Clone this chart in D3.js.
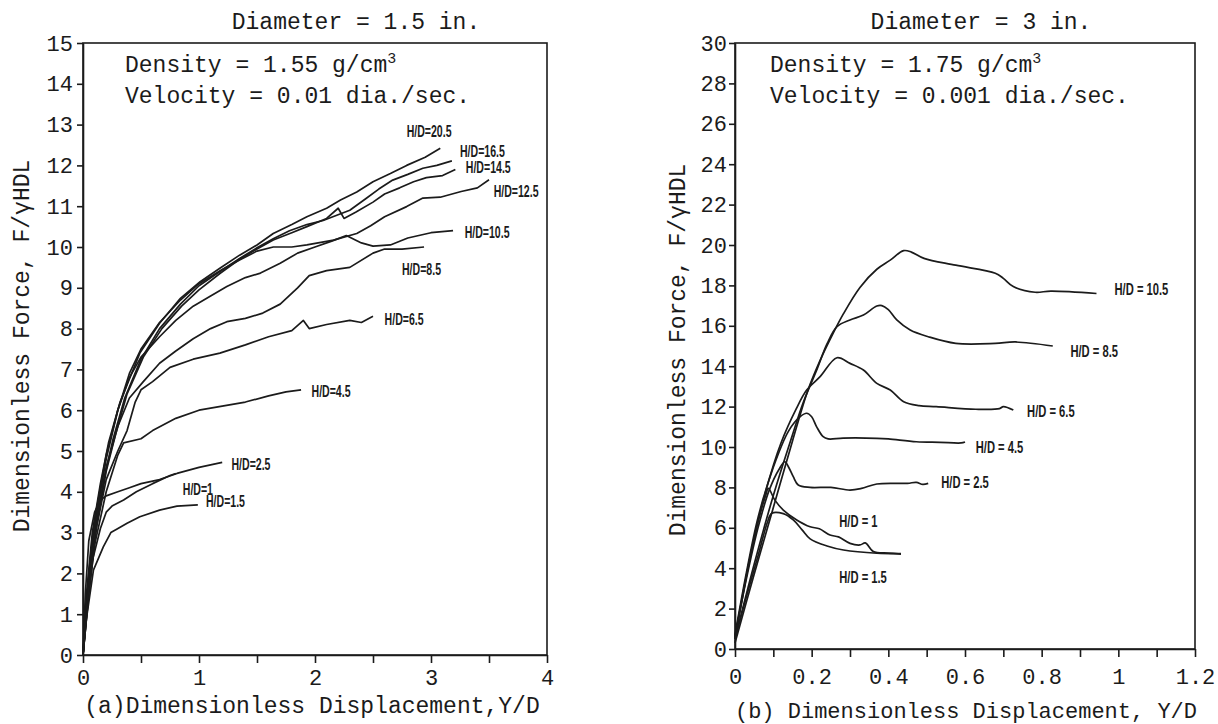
<!DOCTYPE html>
<html>
<head>
<meta charset="utf-8">
<script src="https://cdn.jsdelivr.net/npm/d3@7"></script>
<style>
    body { margin: 0; background: #fff; }
    svg text { font-family: "Liberation Mono", "DejaVu Sans Mono", monospace; fill: #1b1b1b; }
    .tag { font-family: "Liberation Sans", Arial, sans-serif; font-weight: bold; }
    .axis path, .axis line { stroke: #1b1b1b; stroke-width: 1.6; }
    .frame { fill: none; stroke: #1b1b1b; stroke-width: 1.6; }
    .curve { fill: none; stroke: #1b1b1b; stroke-width: 1.7; stroke-linejoin: round; }
</style>
</head>
<body>
<svg id="chart" width="1218" height="724"></svg>
<script>
// ---------- panel (a): diameter 1.5 in.
const aXTicks = [0, 0.5, 1, 1.5, 2, 2.5, 3, 3.5, 4];
const aXLabels = ["0", "", "1", "", "2", "", "3", "", "4"];
const aYTicks = [0, 1, 2, 3, 4, 5, 6, 7, 8, 9, 10, 11, 12, 13, 14, 15];

const aHD20_5 = [[0, 0], [0.03, 1.5], [0.08, 3.0], [0.15, 4.2], [0.22, 5.2], [0.32, 6.2], [0.49, 7.4], [0.66, 8.13],
    [0.84, 8.74], [1.01, 9.15], [1.18, 9.48], [1.35, 9.8], [1.5, 10.05], [1.64, 10.33], [1.8, 10.55], [1.93, 10.74],
    [2.1, 10.95], [2.22, 11.15], [2.36, 11.35], [2.5, 11.6], [2.65, 11.8], [2.79, 12.0], [2.95, 12.2], [3.08, 12.42]];
const aHD16_5 = [[0, 0], [0.04, 1.4], [0.1, 3.0], [0.18, 4.3], [0.26, 5.3], [0.36, 6.3], [0.5, 7.25], [0.66, 8.0],
    [0.84, 8.6], [1.0, 9.05], [1.18, 9.4], [1.35, 9.72], [1.5, 9.98], [1.64, 10.2], [1.78, 10.4], [1.93, 10.55],
    [2.07, 10.65], [2.3, 10.9], [2.44, 11.19], [2.55, 11.42], [2.67, 11.64], [2.8, 11.78], [2.93, 11.93], [3.05, 12.0], [3.18, 12.11]];
const aHD14_5 = [[0, 0], [0.05, 1.5], [0.12, 3.2], [0.2, 4.5], [0.28, 5.4], [0.38, 6.4], [0.52, 7.3], [0.68, 8.0],
    [0.85, 8.55], [1.0, 8.95], [1.18, 9.35], [1.35, 9.7], [1.5, 9.95], [1.64, 10.17], [1.8, 10.35], [1.93, 10.5],
    [2.1, 10.7], [2.2, 10.95], [2.25, 10.7], [2.35, 10.85], [2.5, 11.1], [2.6, 11.3], [2.73, 11.45], [2.85, 11.6], [2.96, 11.7], [3.1, 11.75], [3.21, 11.9]];
const aHD12_5 = [[0, 0], [0.05, 1.9], [0.1, 3.2], [0.2, 4.8], [0.3, 6.0], [0.4, 6.9], [0.5, 7.5], [0.66, 8.15],
    [0.84, 8.7], [1.0, 9.1], [1.2, 9.45], [1.35, 9.68], [1.5, 9.9], [1.64, 10.0], [1.8, 10.0], [1.93, 10.05],
    [2.16, 10.17], [2.36, 10.33], [2.48, 10.52], [2.6, 10.74], [2.79, 10.99], [2.93, 11.2], [3.08, 11.22], [3.26, 11.36], [3.4, 11.45], [3.5, 11.65]];
const aHD10_5 = [[0, 0], [0.05, 2.0], [0.1, 3.3], [0.2, 4.9], [0.3, 6.0], [0.4, 6.8], [0.5, 7.3], [0.66, 7.8],
    [0.8, 8.2], [0.95, 8.55], [1.1, 8.8], [1.24, 9.03], [1.4, 9.25], [1.53, 9.36], [1.7, 9.6], [1.85, 9.85],
    [2.0, 10.0], [2.15, 10.15], [2.27, 10.28], [2.4, 10.1], [2.5, 10.02], [2.65, 10.05], [2.8, 10.22], [3.0, 10.35], [3.19, 10.4]];
const aHD8_5 = [[0, 0], [0.05, 1.8], [0.1, 3.1], [0.2, 4.6], [0.3, 5.6], [0.4, 6.3], [0.52, 6.7], [0.66, 7.15],
    [0.8, 7.45], [0.95, 7.75], [1.1, 8.0], [1.24, 8.17], [1.4, 8.25], [1.55, 8.38], [1.7, 8.6], [1.85, 9.0],
    [1.95, 9.3], [2.1, 9.42], [2.3, 9.5], [2.5, 9.85], [2.6, 9.95], [2.75, 9.95], [2.94, 10.0]];
const aHD6_5 = [[0, 0], [0.05, 1.6], [0.1, 2.9], [0.2, 4.3], [0.3, 5.0], [0.38, 5.5], [0.45, 6.2], [0.5, 6.5],
    [0.6, 6.7], [0.75, 7.05], [0.95, 7.25], [1.18, 7.4], [1.4, 7.6], [1.6, 7.8], [1.8, 7.95], [1.9, 8.2],
    [1.95, 8.0], [2.1, 8.1], [2.3, 8.2], [2.4, 8.15], [2.5, 8.3]];
const aHD4_5 = [[0, 0], [0.05, 1.5], [0.1, 2.7], [0.2, 4.0], [0.3, 4.9], [0.35, 5.2], [0.5, 5.3], [0.6, 5.5],
    [0.8, 5.8], [1.0, 6.0], [1.2, 6.1], [1.4, 6.2], [1.6, 6.35], [1.75, 6.45], [1.88, 6.5]];
const aHD2_5 = [[0, 0], [0.02, 1.5], [0.05, 2.8], [0.1, 3.5], [0.15, 3.8], [0.2, 3.9], [0.3, 4.0], [0.4, 4.1],
    [0.5, 4.2], [0.66, 4.3], [0.81, 4.45], [1.0, 4.6], [1.2, 4.72]];
const aHD1 = [[0, 0], [0.03, 1.2], [0.08, 2.3], [0.15, 3.1], [0.2, 3.5], [0.25, 3.65], [0.35, 3.8], [0.46, 4.0],
    [0.6, 4.2], [0.75, 4.4], [0.8, 4.45]];
const aHD1_5 = [[0, 0], [0.03, 0.9], [0.09, 2.08], [0.175, 2.65], [0.24, 3.0], [0.29, 3.08], [0.38, 3.23],
    [0.49, 3.39], [0.66, 3.55], [0.81, 3.65], [0.99, 3.68]];

const aNames = ["H/D=20.5", "H/D=16.5", "H/D=14.5", "H/D=12.5", "H/D=10.5", "H/D=8.5", "H/D=6.5", "H/D=4.5", "H/D=2.5", "H/D=1", "H/D=1.5"];
const aCurves = [aHD20_5, aHD16_5, aHD14_5, aHD12_5, aHD10_5, aHD8_5, aHD6_5, aHD4_5, aHD2_5, aHD1, aHD1_5];

// ---------- panel (b): diameter 3 in.
const bXTicks = [0, 0.1, 0.2, 0.3, 0.4, 0.5, 0.6, 0.7, 0.8, 0.9, 1.0, 1.1, 1.2];
const bXLabels = ["0", "", "0.2", "", "0.4", "", "0.6", "", "0.8", "", "1", "", "1.2"];
const bYTicks = [0, 2, 4, 6, 8, 10, 12, 14, 16, 18, 20, 22, 24, 26, 28, 30];

const bHD10_5 = [[0, 0.3], [0.05, 3.7], [0.1, 7.0], [0.15, 10.3], [0.19, 12.8], [0.22, 14.2], [0.25, 15.4],
    [0.283, 16.6], [0.326, 17.9], [0.37, 18.8], [0.405, 19.25], [0.44, 19.72], [0.46, 19.65], [0.493, 19.34],
    [0.576, 19.0], [0.679, 18.6], [0.70, 18.35], [0.726, 17.94], [0.783, 17.66], [0.824, 17.72], [0.943, 17.6]];
const bHD8_5 = [[0, 0.5], [0.05, 4.2], [0.1, 7.6], [0.15, 10.6], [0.178, 12.2], [0.213, 13.8], [0.24, 15.1],
    [0.266, 15.96], [0.3, 16.29], [0.335, 16.53], [0.37, 16.98], [0.383, 17.0], [0.4, 16.8], [0.422, 16.29],
    [0.457, 15.79], [0.504, 15.46], [0.576, 15.13], [0.679, 15.13], [0.731, 15.2], [0.829, 15.0]];
const bHD6_5 = [[0, 0.6], [0.04, 4.6], [0.08, 7.8], [0.12, 10.2], [0.16, 11.9], [0.187, 12.82], [0.222, 13.48],
    [0.266, 14.42], [0.3, 14.14], [0.335, 13.81], [0.37, 13.15], [0.405, 12.82], [0.44, 12.24], [0.48, 12.05],
    [0.525, 12.0], [0.628, 11.87], [0.69, 11.9], [0.7, 12.0], [0.726, 11.83]];
const bHD4_5 = [[0, 0.7], [0.03, 3.8], [0.06, 6.5], [0.1, 9.0], [0.14, 10.8], [0.17, 11.5], [0.187, 11.67],
    [0.2, 11.5], [0.213, 11.0], [0.23, 10.51], [0.243, 10.4], [0.282, 10.44], [0.37, 10.43], [0.4, 10.4],
    [0.473, 10.26], [0.535, 10.23], [0.59, 10.2], [0.6, 10.25]];
const bHD2_5 = [[0, 0.6], [0.03, 3.5], [0.06, 6.0], [0.09, 7.9], [0.115, 8.9], [0.13, 9.27], [0.14, 9.0],
    [0.152, 8.53], [0.165, 8.12], [0.196, 8.0], [0.25, 8.0], [0.3, 7.87], [0.33, 7.95], [0.37, 8.17],
    [0.45, 8.2], [0.473, 8.25], [0.49, 8.15], [0.504, 8.2]];
const bHD1 = [[0, 0.5], [0.02, 2.6], [0.04, 4.6], [0.06, 6.3], [0.08, 7.6], [0.087, 7.95], [0.104, 7.37],
    [0.126, 6.88], [0.161, 6.39], [0.196, 6.05], [0.22, 5.95], [0.248, 5.64], [0.27, 5.55], [0.3, 5.23],
    [0.326, 5.15], [0.34, 5.25], [0.361, 4.82], [0.4, 4.75], [0.433, 4.7]];
const bHD1_5 = [[0, 0.5], [0.03, 2.6], [0.06, 4.6], [0.085, 6.3], [0.096, 6.72], [0.126, 6.7], [0.152, 6.39],
    [0.175, 5.9], [0.196, 5.45], [0.24, 5.1], [0.283, 4.9], [0.37, 4.74], [0.433, 4.72]];

const bNames = ["H/D = 10.5", "H/D = 8.5", "H/D = 6.5", "H/D = 4.5", "H/D = 2.5", "H/D = 1", "H/D = 1.5"];
const bCurves = [bHD10_5, bHD8_5, bHD6_5, bHD4_5, bHD2_5, bHD1, bHD1_5];

// where each curve name sits, in data units of its panel
const aTagAt = [[2.79, 12.7], [3.25, 12.21], [3.3, 11.81], [3.54, 11.23], [3.29, 10.22], [2.75, 9.31],
    [2.6, 8.09], [1.97, 6.32], [1.28, 4.53], [0.86, 3.92], [1.06, 3.63]];
const bTagAt = [[0.99, 17.52], [0.875, 14.46], [0.762, 11.49], [0.628, 9.7], [0.538, 7.97], [0.272, 6.04], [0.272, 3.27]];


let svg = d3.select("#chart");

/**
 * Draw one panel: frame, axes, curves and texts.
 */
function drawPanel(p) {
    let g = svg.append("g");

    let x = d3.scaleLinear().domain(p.xDomain).range([p.left, p.right]);
    let y = d3.scaleLinear().domain(p.yDomain).range([p.bottom, p.top]);

    g.append("rect")
        .attr("class", "frame")
        .attr("x", p.left)
        .attr("y", p.top)
        .attr("width", p.right - p.left)
        .attr("height", p.bottom - p.top);

    let xAxis = d3.axisBottom(x)
        .tickValues(p.xTicks)
        .tickFormat((d, i) => p.xLabels[i])
        .tickSize(8)
        .tickSizeOuter(0)
        .tickPadding(p.xPad);
    g.append("g")
        .attr("class", "axis")
        .attr("transform", "translate(0," + p.bottom + ")")
        .call(xAxis)
        .selectAll("text")
        .style("font-size", "22px");

    let yAxis = d3.axisLeft(y)
        .tickValues(p.yTicks)
        .tickSize(6)
        .tickSizeOuter(0)
        .tickPadding(p.yPad);
    g.append("g")
        .attr("class", "axis")
        .attr("transform", "translate(" + p.left + ",0)")
        .call(yAxis)
        .selectAll("text")
        .style("font-size", "22px");

    let line = d3.line()
        .x(d => x(d[0]))
        .y(d => y(d[1]))
        .curve(p.smooth ? d3.curveCatmullRom.alpha(0.5) : d3.curveLinear);

    g.selectAll("path.curve")
        .data(p.curves)
        .enter().append("path")
        .attr("class", "curve")
        .attr("d", line);

    // curve names, condensed bold
    g.selectAll("text.tag")
        .data(p.names)
        .enter().append("text")
        .attr("class", "tag")
        .attr("transform", (d, i) => "translate(" + x(p.tagAt[i][0]) + "," + y(p.tagAt[i][1]) + ") scale(" + p.tagSqueeze + ",1)")
        .style("font-size", "16px")
        .text(d => d);

    g.append("text")
        .attr("x", p.titleX)
        .attr("y", 29)
        .attr("text-anchor", "middle")
        .style("font-size", "23px")
        .text(p.title);

    let dens = g.append("text")
        .attr("x", p.noteX)
        .attr("y", 72)
        .style("font-size", "23px")
        .text(p.density);
    dens.append("tspan")
        .attr("dy", -9)
        .style("font-size", "15px")
        .text("3");

    g.append("text")
        .attr("x", p.noteX)
        .attr("y", 103)
        .style("font-size", "23px")
        .text(p.velocity);

    g.append("text")
        .attr("x", p.xLabelX)
        .attr("y", p.xLabelY)
        .attr("text-anchor", "middle")
        .style("font-size", p.xLabelSize)
        .text(p.xLabel);

    g.append("text")
        .attr("transform", "translate(" + p.yLabelX + "," + p.yLabelY + ") rotate(-90)")
        .attr("text-anchor", "middle")
        .style("font-size", "23px")
        .text("Dimensionless Force, F/\u03b3HDL");
}

drawPanel({
    left: 83, right: 547, top: 43, bottom: 655,
    xDomain: [0, 4], yDomain: [0, 15],
    xTicks: aXTicks, xLabels: aXLabels, yTicks: aYTicks,
    xPad: 6, yPad: 4,
    curves: aCurves, names: aNames, tagAt: aTagAt, smooth: false, tagSqueeze: 0.66,
    title: "Diameter = 1.5 in.", titleX: 356,
    density: "Density = 1.55 g/cm", velocity: "Velocity = 0.01 dia./sec.", noteX: 125,
    xLabel: "(a)Dimensionless Displacement,Y/D", xLabelX: 312, xLabelY: 713, xLabelSize: "23px",
    yLabelX: 29, yLabelY: 346
});

drawPanel({
    left: 735, right: 1195, top: 43, bottom: 649,
    xDomain: [0, 1.2], yDomain: [0, 30],
    xTicks: bXTicks, xLabels: bXLabels, yTicks: bYTicks,
    xPad: 11, yPad: 2,
    curves: bCurves, names: bNames, tagAt: bTagAt, smooth: true, tagSqueeze: 0.7,
    title: "Diameter = 3 in.", titleX: 981,
    density: "Density = 1.75 g/cm", velocity: "Velocity = 0.001 dia./sec.", noteX: 770,
    xLabel: "(b) Dimensionless Displacement, Y/D", xLabelX: 966, xLabelY: 718, xLabelSize: "22px",
    yLabelX: 685, yLabelY: 350
});
</script>
</body>
</html>
